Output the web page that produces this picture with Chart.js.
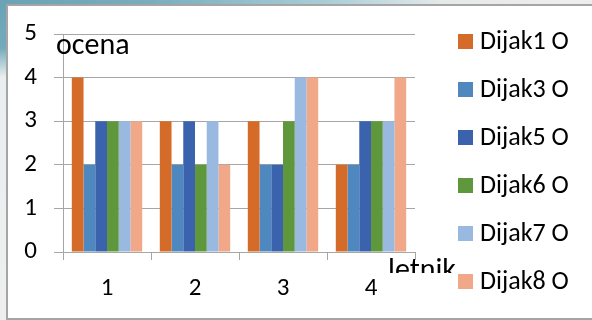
<!DOCTYPE html>
<html>
<head>
<meta charset="utf-8">
<script src="https://cdn.jsdelivr.net/npm/chart.js@4/dist/chart.umd.min.js"></script>
<style>
  html, body { margin: 0; padding: 0; }
  body { width: 592px; height: 320px; position: relative; overflow: hidden; background: #efefef; }
  #topstrip { position: absolute; left: 0; top: 0; width: 592px; height: 5px;
    background: linear-gradient(to right, #6aa3b6 0%, #78adbd 25%, #a9cdd6 55%, #e6e9e9 75%, #eeeeee 100%); }
  #leftstrip { position: absolute; left: 0; top: 0; width: 7px; height: 320px;
    background: linear-gradient(to bottom, #6aa3b6 0%, #74aabb 15%, #e9eeef 24%, #efefef 100%); }
  #frame { position: absolute; left: 6px; top: 4px; width: 700px; height: 312px;
    background: #ffffff; border: 2px solid #a5a5a5; }
  #c { position: absolute; left: 0; top: 0; }
</style>
</head>
<body>
<div id="topstrip"></div>
<div id="leftstrip"></div>
<div id="frame"></div>
<canvas id="c" width="592" height="320"></canvas>
<script>
// ---- data ----
const categories = ["1", "2", "3", "4"];
const seriesNames = ["Dijak1 O", "Dijak3 O", "Dijak5 O", "Dijak6 O", "Dijak7 O", "Dijak8 O"];
const dijak1 = [4, 3, 3, 2];
const dijak3 = [2, 2, 2, 2];
const dijak5 = [3, 3, 2, 3];
const dijak6 = [3, 2, 3, 3];
const dijak7 = [3, 3, 4, 3];
const dijak8 = [3, 2, 4, 4];
const yAxisTitle = "ocena";
const xAxisTitle = "letnik";
const yMin = 0, yMax = 5, yStep = 1;

const seriesValues = [dijak1, dijak3, dijak5, dijak6, dijak7, dijak8];
const seriesColors = ["#d46b29", "#4e88bf", "#3b63ad", "#5f983c", "#99b9e0", "#f0a889"];

const FONT = "Carlito, Lato, sans-serif";
const GRID = "#a6a6a6";

const legendPlugin = {
  id: "customLegend",
  afterDraw(chart) {
    const ctx = chart.ctx;
    ctx.save();
    ctx.font = "26px " + FONT;
    ctx.textBaseline = "middle";
    ctx.textAlign = "left";
    chart.data.datasets.forEach((ds, i) => {
      const cy = 41.3 + i * 48.05;
      ctx.fillStyle = ds.backgroundColor;
      ctx.fillRect(458, Math.round(cy - 7.5), 15, 15);
      ctx.fillStyle = "#000000";
      ctx.fillText(ds.label, 480, cy + 1);
    });
    ctx.restore();
  }
};

const titlePlugin = {
  id: "axisTitles",
  afterDraw(chart) {
    const ctx = chart.ctx;
    ctx.save();
    ctx.font = "30px " + FONT;
    ctx.fillStyle = "#000000";
    ctx.textBaseline = "alphabetic";
    ctx.textAlign = "left";
    ctx.fillText(yAxisTitle, 56, 54);
    ctx.beginPath();
    ctx.rect(300, 240, 180, 33);
    ctx.clip();
    ctx.fillText(xAxisTitle, 388, 279);
    ctx.restore();
  }
};

new Chart(document.getElementById("c"), {
  type: "bar",
  data: {
    labels: categories,
    datasets: seriesNames.map((name, i) => ({
      label: name,
      data: seriesValues[i],
      backgroundColor: seriesColors[i],
      borderWidth: 0,
      barPercentage: 1.0,
      categoryPercentage: 0.8
    }))
  },
  options: {
    responsive: false,
    animation: false,
    devicePixelRatio: 1,
    layout: { padding: { left: 0, top: 34, right: 177, bottom: 0 } },
    plugins: { legend: { display: false }, tooltip: { enabled: false } },
    scales: {
      x: {
        offset: true,
        grid: { offset: true, drawOnChartArea: false, drawTicks: true, tickLength: 8, color: GRID },
        border: { display: true, color: GRID },
        ticks: { color: "#000000", font: { family: FONT, size: 25 }, padding: 14 },
        afterFit(scale) { scale.height = 68; }
      },
      y: {
        min: yMin, max: yMax,
        grid: { color: GRID, tickLength: 9, drawTicks: true },
        border: { display: true, color: GRID },
        ticks: { stepSize: yStep, color: "#000000", font: { family: FONT, size: 25 }, padding: 17 },
        afterFit(scale) { scale.width = 63; }
      }
    }
  },
  plugins: [legendPlugin, titlePlugin]
});
</script>
</body>
</html>
